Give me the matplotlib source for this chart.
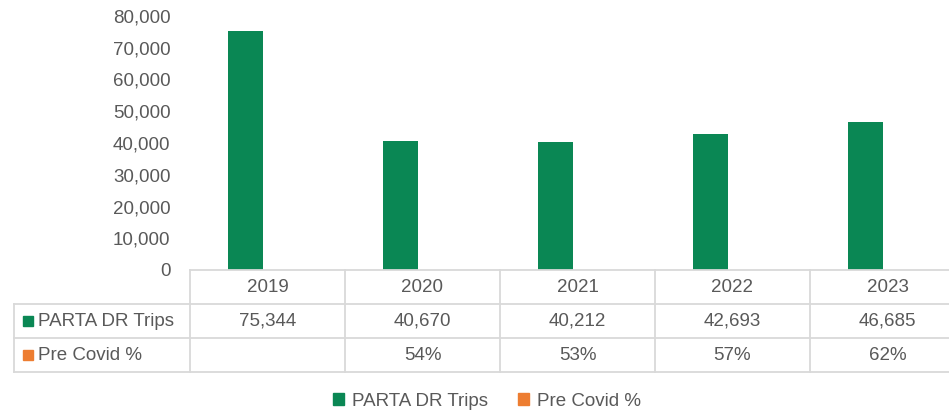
import numpy as np
import matplotlib
matplotlib.use("Agg")
import matplotlib.pyplot as plt
from matplotlib.patches import Patch, Rectangle
from matplotlib.ticker import FuncFormatter

years = ["2019", "2020", "2021", "2022", "2023"]
trips = [75344, 40670, 40212, 42693, 46685]
pre_covid = [None, 54, 53, 57, 62]
series_names = ["PARTA DR Trips", "Pre Covid %"]

green = "#0A8754"
orange = "#ED7D31"
txt = "#595959"
grid = "#D9D9D9"

plt.rcParams['font.family'] = ['Liberation Sans', 'DejaVu Sans']
W, H = 949, 412
fig = plt.figure(figsize=(W / 100, H / 100), dpi=100)

# layout in pixels
col0, colw = 190, 155
label_left = 14
axis_y, row_h = 270, 34
top_y = 16

ax = fig.add_axes([col0 / W, 1 - axis_y / H, colw * len(years) / W, (axis_y - top_y) / H])
x = np.arange(len(years))
ax.bar(x - 0.142, trips, width=0.22, color=green)
ax.bar(x + 0.08, [0] * len(years), width=0.22, color=orange)
ax.set_xlim(-0.5, len(years) - 0.5)
ax.set_ylim(0, 80000)
ax.set_yticks(np.arange(0, 80001, 10000))
ax.yaxis.set_major_formatter(FuncFormatter(lambda v, p: f"{int(v):,}"))
ax.tick_params(axis='y', length=0, pad=14, labelsize=13.5, labelcolor=txt)
ax.set_xticks([])
for s in ax.spines.values():
    s.set_visible(False)

# data table drawn in pixel coords on an overlay axes
ov = fig.add_axes([0, 0, 1, 1])
ov.set_xlim(0, W)
ov.set_ylim(H, 0)
ov.axis('off')
right = col0 + colw * len(years)
lw = 1.3
ov.plot([col0, right], [axis_y, axis_y], color=grid, lw=lw)
for r in range(1, 4):
    y = axis_y + r * row_h
    ov.plot([label_left, right], [y, y], color=grid, lw=lw)
ov.plot([label_left, label_left], [axis_y + row_h, axis_y + 3 * row_h], color=grid, lw=lw)
for i in range(len(years) + 1):
    xx = col0 + i * colw
    ov.plot([xx, xx], [axis_y, axis_y + 3 * row_h], color=grid, lw=lw)

fs = 13.5
for i, yr in enumerate(years):
    cx = col0 + (i + 0.5) * colw
    ov.text(cx, axis_y + 0.5 * row_h, yr, ha='center', va='center', fontsize=fs, color=txt)
    ov.text(cx, axis_y + 1.5 * row_h, f"{trips[i]:,}", ha='center', va='center', fontsize=fs, color=txt)
    if pre_covid[i] is not None:
        ov.text(cx, axis_y + 2.5 * row_h, f"{pre_covid[i]}%", ha='center', va='center', fontsize=fs, color=txt)

for r, (name, c) in enumerate(zip(series_names, [green, orange])):
    yc = axis_y + (r + 1.5) * row_h
    ov.add_patch(Rectangle((23, yc - 5), 10, 10, color=c))
    ov.text(38, yc, name, ha='left', va='center', fontsize=fs, color=txt)

handles = [Patch(color=green, label=series_names[0]), Patch(color=orange, label=series_names[1])]
fig.legend(handles=handles, loc='center', bbox_to_anchor=(487 / W, 1 - 401 / H), ncol=2,
           frameon=False, fontsize=fs, labelcolor=txt, handlelength=0.6, handleheight=0.6,
           handletextpad=0.4, columnspacing=1.6)

fig.savefig("out.png", dpi=100)
